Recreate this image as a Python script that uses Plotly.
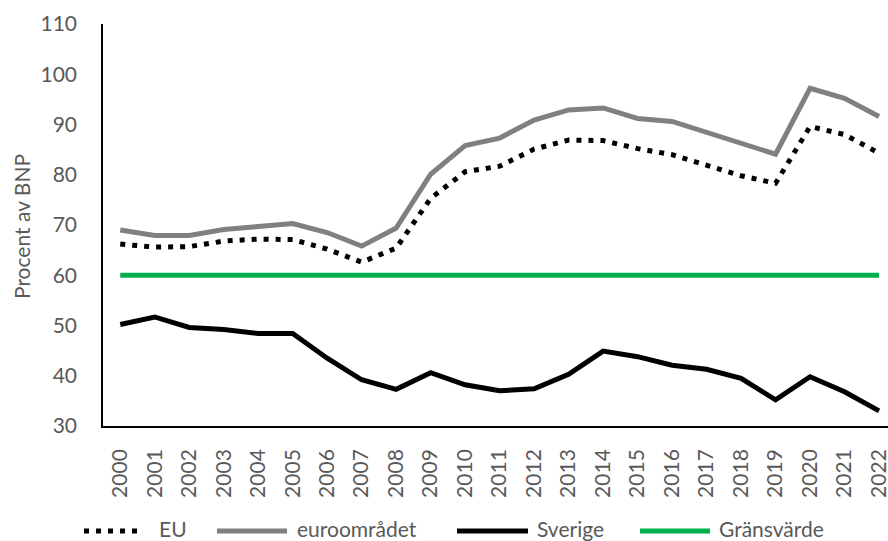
import plotly.graph_objects as go

years = list(range(2000, 2023))
year_labels = [str(y) for y in years]
eu = [66.2, 65.6, 65.7, 66.8, 67.2, 67.1, 65.2, 62.6, 65.4, 75.3, 80.6, 81.7, 85.1,
      86.9, 86.8, 85.2, 84.0, 81.8, 79.8, 78.3, 89.6, 88.0, 84.3]
euro = [69.0, 67.9, 67.9, 69.1, 69.7, 70.3, 68.5, 65.8, 69.4, 80.1, 85.8, 87.3, 90.9,
        92.9, 93.3, 91.2, 90.6, 88.4, 86.3, 84.1, 97.2, 95.2, 91.6]
sverige = [50.2, 51.7, 49.6, 49.2, 48.4, 48.4, 43.5, 39.2, 37.3, 40.6, 38.2, 37.0, 37.4,
           40.3, 44.9, 43.8, 42.1, 41.3, 39.5, 35.2, 39.8, 36.8, 33.0]
grans = [60] * len(years)
y_ticks = [30, 40, 50, 60, 70, 80, 90, 100, 110]

series_names = ["EU", "euroområdet", "Sverige", "Gränsvärde"]
colors = ["#000000", "#808080", "#000000", "#00B050"]
dashes = ["5px,7px", "solid", "solid", "solid"]
FONT = "Lato"
FS = 21
TXT = "#595959"

fig = go.Figure()
for name, vals, col, dash in zip(series_names, [eu, euro, sverige, grans], colors, dashes):
    fig.add_trace(go.Scatter(x=years, y=vals, mode="lines", name=name,
                             line=dict(color=col, width=5, dash=dash),
                             showlegend=False))

# Plot geometry (pixels)
L, R, T, B = 103, 0, 24, 115
W = 888 - L - R
H = 541 - T - B

def px_x(p):
    return (p - L) / W

def px_y(p):
    return (541 - B - p) / H

# Manual legend
line_y = px_y(531)
text_y = px_y(528)
legend_items = [
    (84, 143, 157),
    (217, 287, 295),
    (457, 528, 535),
    (640, 710, 717),
]
shapes = []
annotations = []
for (x0, x1, xt), name, col, dash in zip(legend_items, series_names, colors, dashes):
    shapes.append(dict(type="line", xref="paper", yref="paper",
                       x0=px_x(x0), x1=px_x(x1), y0=line_y, y1=line_y,
                       line=dict(color=col, width=5, dash=dash)))
    annotations.append(dict(text=name, xref="paper", yref="paper", x=px_x(xt), y=text_y,
                            xanchor="left", yanchor="middle", showarrow=False,
                            font=dict(family=FONT, size=FS, color=TXT)))

annotations.append(dict(text="Procent av BNP", xref="paper", yref="paper",
                        x=px_x(21), y=px_y(227), xanchor="center", yanchor="middle",
                        textangle=-90, showarrow=False,
                        font=dict(family=FONT, size=FS, color=TXT)))

fig.update_layout(
    width=888, height=541,
    margin=dict(l=L, r=R, t=T, b=B, autoexpand=False),
    paper_bgcolor="white", plot_bgcolor="white",
    font=dict(family=FONT, size=FS, color=TXT),
    shapes=shapes, annotations=annotations,
)
fig.update_xaxes(range=[1999.5, 2022.26], tickmode="array", tickvals=years,
                 ticktext=year_labels, tickangle=-90, showgrid=False, zeroline=False,
                 showline=True, linecolor="#000000", linewidth=1.5, ticks="",
                 ticklabelstandoff=13, ticklabeloverflow="allow",
                 tickfont=dict(family=FONT, size=FS, color=TXT))
fig.update_yaxes(range=[30, 110], tickmode="array", tickvals=y_ticks, showgrid=False,
                 zeroline=False, showline=True, linecolor="#000000", linewidth=1.5,
                 ticks="", ticklabelstandoff=20,
                 tickfont=dict(family=FONT, size=FS, color=TXT))

fig.write_html("out.html", config={"displayModeBar": False},
               post_script="document.body.style.margin='0';document.body.style.overflow='hidden';")
